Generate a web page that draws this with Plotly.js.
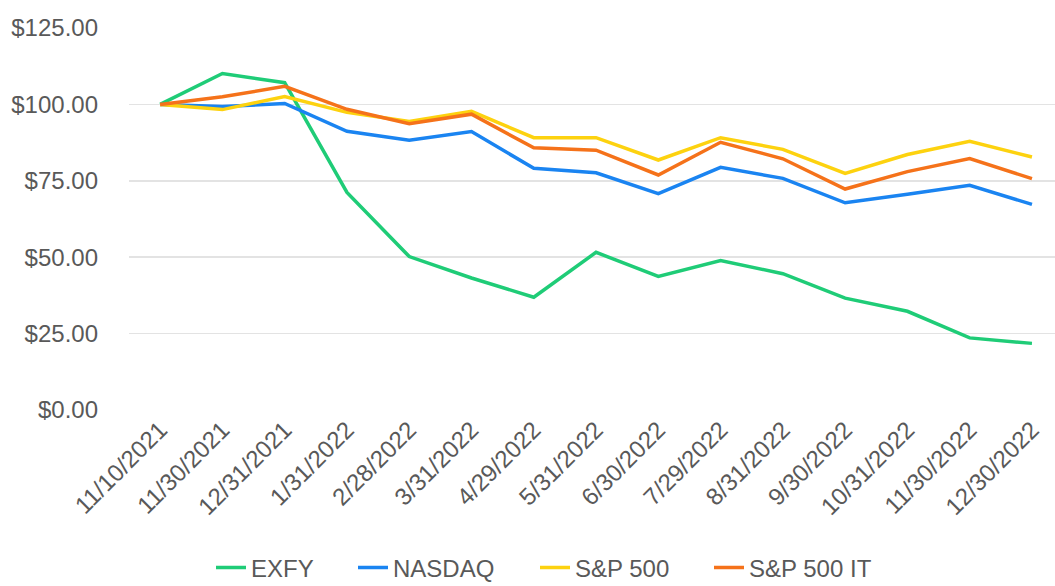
<!DOCTYPE html>
<html>
<head>
<meta charset="utf-8">
<script src="https://cdn.plot.ly/plotly-3.0.1.min.js"></script>
<style>html,body{margin:0;padding:0;background:#fff;}#chart{width:1055px;height:586px;}</style>
</head>
<body>
<div id="chart"></div>
<script>
const dates = ["11/10/2021","11/30/2021","12/31/2021","1/31/2022","2/28/2022","3/31/2022","4/29/2022","5/31/2022","6/30/2022","7/29/2022","8/31/2022","9/30/2022","10/31/2022","11/30/2022","12/30/2022"];
const exfy   = [100, 110.1, 107.1, 71.2, 50.2, 43.2, 36.9, 51.6, 43.7, 48.9, 44.6, 36.6, 32.3, 23.6, 21.8];
const nasdaq = [100, 99.3, 100.3, 91.2, 88.3, 91.1, 79.1, 77.6, 70.8, 79.4, 75.8, 67.8, 70.6, 73.5, 67.3];
const sp500  = [100, 98.3, 102.6, 97.4, 94.4, 97.7, 89.1, 89.1, 81.8, 89.1, 85.3, 77.4, 83.6, 87.9, 82.8];
const sp500it= [100, 102.5, 105.9, 98.4, 93.7, 96.8, 85.8, 85.0, 76.9, 87.6, 82.2, 72.3, 78.0, 82.3, 75.7];
const names  = ["EXFY","NASDAQ","S&P 500","S&P 500 IT"];
const colors = ["#1fcc77","#1a84f1","#fdd20f","#f5721a"];
const series = [exfy, nasdaq, sp500, sp500it];
const yTicks = [0,25,50,75,100,125];
const yTickText = ["$0.00","$25.00","$50.00","$75.00","$100.00","$125.00"];

const legendIds = ["legend","legend2","legend3","legend4"];
const legendX = [211, 353, 535, 709];

const traces = series.map((s,i)=>({
  x: dates, y: s, name: names[i], type: "scatter", mode: "lines",
  line: {color: colors[i], width: 3.5}, legend: legendIds[i]
}));

const layout = {
  width: 1055, height: 586,
  margin: {l: 129, r: 0, t: 28, b: 175.5},
  paper_bgcolor: "#fff", plot_bgcolor: "#fff",
  font: {family: "Liberation Sans, Arial, sans-serif", size: 24, color: "#595959"},
  showlegend: true,
  xaxis: {type: "category", range: [-0.5, 14.37], tickangle: -45, showgrid: false,
          zeroline: false, showline: false, ticks: "", tickfont: {size: 24, color: "#595959"}},
  yaxis: {range: [0, 125], tickvals: yTicks, ticktext: yTickText, showgrid: true,
          gridcolor: "#e3e3e3", gridwidth: 1.5, zeroline: false, showline: false, ticks: "",
          ticklabelstandoff: 30, tickfont: {size: 24, color: "#595959"}}
};
legendIds.forEach((id,i)=>{
  layout[id] = {xref: "container", yref: "container", x: legendX[i]/1055, xanchor: "left",
                y: 18/586, yanchor: "middle", orientation: "h",
                font: {size: 24, color: "#595959"}, bgcolor: "rgba(0,0,0,0)"};
});
Plotly.newPlot("chart", traces, layout, {displayModeBar: false, staticPlot: true});
</script>
</body>
</html>
